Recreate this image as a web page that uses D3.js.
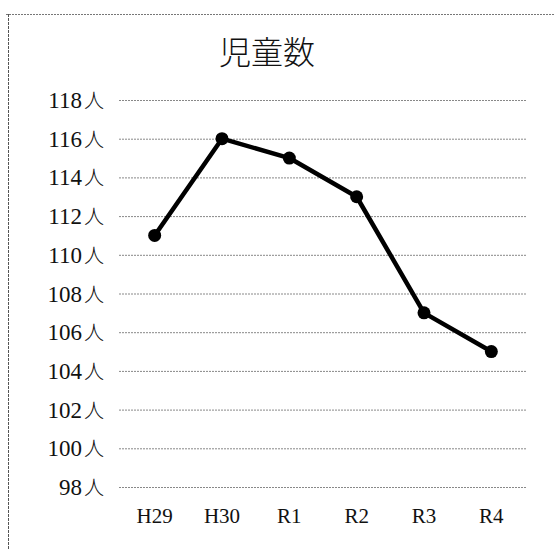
<!DOCTYPE html>
<html><head><meta charset="utf-8">
<script src="https://cdn.jsdelivr.net/npm/d3@7"></script>
<style>body{margin:0;background:#fff;}</style>
</head><body>
<svg id="c" width="554" height="549"></svg>
<script>
const categories = ["H29","H30","R1","R2","R3","R4"];
const values = [111,116,115,113,107,105];
const yTicks = [98,100,102,104,106,108,110,112,114,116,118];
const title = "児童数";

const svg = d3.select("#c");
svg.append("rect").attr("width",554).attr("height",549).attr("fill","#fff");
// frame
svg.append("line").attr("x1",6).attr("x2",554).attr("y1",14.5).attr("y2",14.5)
  .attr("stroke","#777").attr("stroke-width",1).attr("stroke-dasharray","2,1");
svg.append("line").attr("x1",8.5).attr("x2",8.5).attr("y1",14).attr("y2",549)
  .attr("stroke","#555").attr("stroke-width",1).attr("stroke-dasharray","3,1");

const x = d3.scaleBand().domain(categories).range([121,525]);
const y = d3.scaleLinear().domain([98,118]).range([487,100]);

const serif = "'Liberation Serif','DejaVu Serif',serif";
const cjk = "'Noto Sans CJK JP',sans-serif";

svg.append("text").attr("x",267).attr("y",64).attr("text-anchor","middle")
  .attr("font-family",cjk).attr("font-size",32).attr("font-weight",300).attr("fill","#111").text(title);

// gridlines
svg.append("g").selectAll("line").data(yTicks).join("line")
  .attr("x1",119).attr("x2",526).attr("y1",d=>y(d)+0.5).attr("y2",d=>y(d)+0.5)
  .attr("stroke","#888").attr("stroke-width",1).attr("stroke-dasharray","2,1");

// y labels
const yl = svg.append("g").selectAll("text").data(yTicks).join("text")
  .attr("x",104).attr("y",d=>y(d)+8).attr("text-anchor","end").attr("fill","#111");
yl.append("tspan").attr("font-family",serif).attr("font-size",23).text(d=>d);
yl.append("tspan").attr("font-family",cjk).attr("font-size",20).attr("font-weight",300).attr("dx",2).text("人");

// x labels
svg.append("g").selectAll("text").data(categories).join("text")
  .attr("x",d=>x(d)+x.bandwidth()/2).attr("y",523).attr("text-anchor","middle")
  .attr("font-family",serif).attr("font-size",21).attr("fill","#111").text(d=>d);

const pts = categories.map((c,i)=>[x(c)+x.bandwidth()/2, y(values[i])]);
svg.append("path").attr("d",d3.line()(pts)).attr("fill","none")
  .attr("stroke","#000").attr("stroke-width",4.5).attr("stroke-linejoin","round");
svg.append("g").selectAll("circle").data(pts).join("circle")
  .attr("cx",d=>d[0]).attr("cy",d=>d[1]).attr("r",6.5).attr("fill","#000");
</script>
</body></html>
